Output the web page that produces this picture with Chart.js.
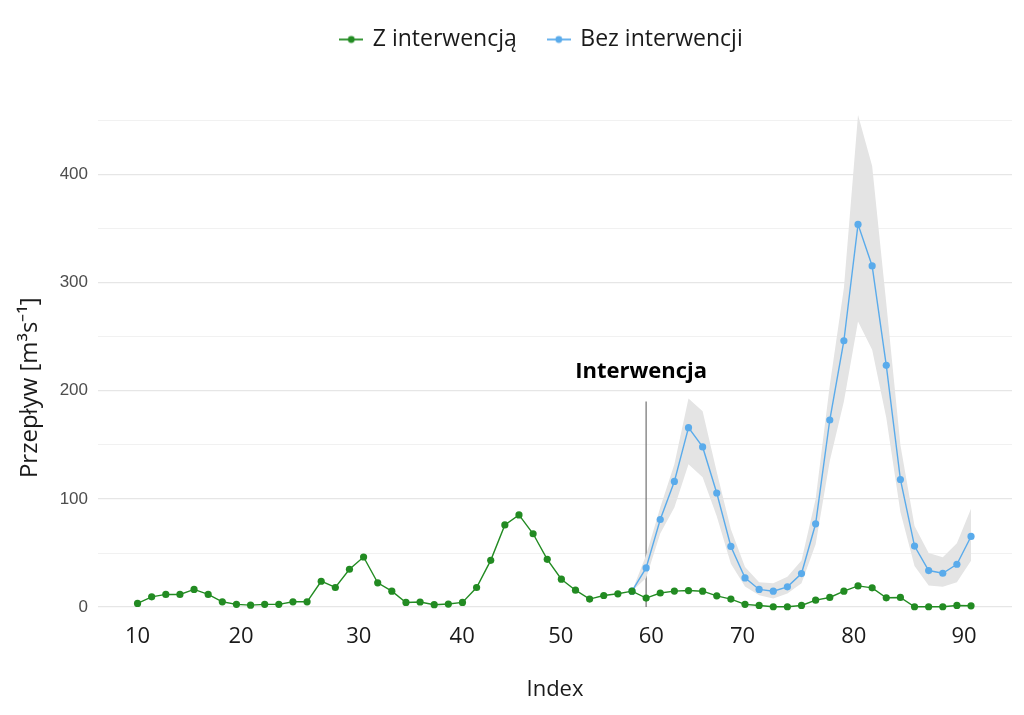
<!DOCTYPE html>
<html>
<head>
  <meta charset="UTF-8">
  <title>Przepływ - interwencja</title>
  <script src="https://cdn.jsdelivr.net/npm/chart.js"></script>
  <style>
    html, body { margin: 0; padding: 0; background: #fff; }
    #wrap { width: 1024px; height: 715px; }
  </style>
</head>
<body>
  <div id="wrap"><canvas id="wykres"></canvas></div>

<script>
  // wartości (kolejne punkty)
  var zInterwencja = [3.4, 9.5, 11.7, 11.7, 16.3, 11.7, 4.9, 2.5, 1.8, 2.5,
    2.5, 4.9, 4.9, 23.9, 18.1, 35, 46.3, 22.4, 14.7, 4.3,
    4.7, 2.2, 2.8, 4.3, 18.1, 43.2, 76, 85.2, 67.8, 44.2,
    25.8, 15.6, 7.4, 10.7, 12.3, 14.7, 8.3, 13, 14.8, 15.3,
    14.7, 10.4, 7.4, 2.5, 1.5, 0.3, 0.3, 1.5, 6.4, 8.9,
    14.7, 19.6, 17.8, 8.6, 8.9, 0.3, 0.3, 0.3, 1.5, 1.2];

  // seria bez interwencji i pasmo niepewności zaczynają się od punktu 35
  var startBez = 35;
  var bezInterwencji = [14.7, 36.2, 81, 116.2, 165.9, 148.1, 105.5, 56.1, 27, 16.3,
    14.7, 18.7, 31, 77, 173, 246.3, 353.9, 315.5, 223.6, 118,
    56.4, 33.8, 31.3, 39.6, 65.3];
  var pasmoDol = [14.7, 27, 68, 92, 132, 120, 84, 40, 19, 11,
    8, 12.6, 22, 58, 135, 190, 264, 238, 175, 88,
    38, 20, 18.7, 23, 43];
  var pasmoGora = [14.7, 48, 92, 132, 193, 181, 125, 72, 37, 23,
    22, 28, 43, 100, 205, 295, 455, 408, 281, 150,
    75, 50, 46, 59, 91];

  var punktInterwencji = 36;
  var wysokoscLinii = 190;
  var etykietaInterwencji = 'Interwencja';
  var tytulY = 'Przepływ [m³s⁻¹]';

  var etykietyX = ['10', '20', '30', '40', '50', '60', '70', '80', '90'];
  var pozycjeX = [0, 7.33, 15.66, 22.98, 29.96, 36.37, 42.82, 50.7, 58.5];
  var wartosciY = [0, 50, 100, 150, 200, 250, 300, 350, 400, 450];

  var zielony = '#228b22';
  var niebieski = '#5aabeb';

  function punkty(wartosci, start) {
    return wartosci.map(function (v, i) { return { x: start + i, y: v }; });
  }

  function znacznik(kolor) {
    var c = document.createElement('canvas');
    c.width = 24; c.height = 10;
    var ctx = c.getContext('2d');
    ctx.strokeStyle = kolor;
    ctx.lineWidth = 1.8;
    ctx.beginPath(); ctx.moveTo(0, 5); ctx.lineTo(24, 5); ctx.stroke();
    ctx.fillStyle = kolor;
    ctx.beginPath(); ctx.arc(12, 5, 3.4, 0, Math.PI * 2); ctx.fill();
    return c;
  }

  var interwencjaPlugin = {
    id: 'interwencja',
    afterLayout: function (chart) {
      // legenda w oryginale jest lekko przesunięta w prawo
      chart.legend.left += 72;
    },
    beforeDatasetsDraw: function (chart) {
      var ctx = chart.ctx;
      var x = chart.scales.x.getPixelForValue(punktInterwencji);
      var y0 = chart.scales.y.getPixelForValue(0);
      var y1 = chart.scales.y.getPixelForValue(wysokoscLinii);
      ctx.save();
      ctx.strokeStyle = '#707070';
      ctx.lineWidth = 1.2;
      ctx.beginPath(); ctx.moveTo(x, y0); ctx.lineTo(x, y1); ctx.stroke();
      ctx.restore();
    },
    afterDatasetsDraw: function (chart) {
      var ctx = chart.ctx;
      var x = chart.scales.x.getPixelForValue(punktInterwencji);
      var y = chart.scales.y.getPixelForValue(wysokoscLinii);
      ctx.save();
      ctx.fillStyle = '#000';
      ctx.font = 'bold 22px "Open Sans"';
      ctx.textAlign = 'center';
      ctx.textBaseline = 'alphabetic';
      ctx.fillText(etykietaInterwencji, x - 5, y - 24);
      ctx.restore();

      // tytuł osi Y, wyśrodkowany na obszarze danych
      var yy = (chart.scales.y.getPixelForValue(0) + chart.scales.y.getPixelForValue(450)) / 2 + 24;
      ctx.save();
      ctx.translate(30, yy);
      ctx.rotate(-Math.PI / 2);
      ctx.fillStyle = '#1a1a1a';
      ctx.font = '24px "Open Sans"';
      ctx.textAlign = 'center';
      ctx.textBaseline = 'middle';
      ctx.fillText(tytulY, 0, 0);
      ctx.restore();
    }
  };

  new Chart(document.getElementById('wykres'), {
    type: 'line',
    data: {
      datasets: [
        {
          label: 'Z interwencją',
          data: punkty(zInterwencja, 0),
          borderColor: zielony,
          backgroundColor: zielony,
          borderWidth: 1.4,
          pointRadius: 3.6,
          pointBorderWidth: 0,
          tension: 0,
          order: 0
        },
        {
          label: 'Bez interwencji',
          data: punkty(bezInterwencji, startBez),
          borderColor: niebieski,
          backgroundColor: niebieski,
          borderWidth: 1.4,
          pointRadius: 3.6,
          pointBorderWidth: 0,
          tension: 0,
          order: 1
        },
        {
          label: 'dol',
          data: punkty(pasmoDol, startBez),
          borderWidth: 0,
          pointRadius: 0,
          fill: false,
          order: 2
        },
        {
          label: 'gora',
          data: punkty(pasmoGora, startBez),
          borderWidth: 0,
          pointRadius: 0,
          backgroundColor: '#e4e4e4',
          fill: '-1',
          order: 2
        }
      ]
    },
    options: {
      responsive: true,
      maintainAspectRatio: false,
      animation: false,
      layout: { padding: { top: -4, right: 12, left: 0, bottom: 0 } },
      plugins: {
        tooltip: { enabled: false },
        legend: {
          position: 'top',
          labels: {
            usePointStyle: true,
            pointStyleWidth: 20,
            padding: 32,
            color: '#1a1a1a',
            font: { family: '"Open Sans"', size: 23 },
            generateLabels: function (chart) {
              return [
                { text: 'Z interwencją', pointStyle: znacznik(zielony), fillStyle: zielony, strokeStyle: zielony, lineWidth: 0, fontColor: '#1a1a1a', datasetIndex: 0 },
                { text: 'Bez interwencji', pointStyle: znacznik(niebieski), fillStyle: niebieski, strokeStyle: niebieski, lineWidth: 0, fontColor: '#1a1a1a', datasetIndex: 1 }
              ];
            }
          }
        }
      },
      scales: {
        x: {
          type: 'linear',
          min: -2.8,
          max: 61.9,
          afterBuildTicks: function (scale) {
            scale.ticks = pozycjeX.map(function (v) { return { value: v }; });
          },
          afterFit: function (scale) { scale.height = 93; },
          ticks: {
            autoSkip: false,
            maxRotation: 0,
            padding: 2,
            color: '#1a1a1a',
            font: { family: '"Open Sans"', size: 22 },
            callback: function (v, i) { return etykietyX[i]; }
          },
          grid: { display: false, drawTicks: false },
          border: { display: false },
          title: {
            display: true,
            text: 'Index',
            color: '#1a1a1a',
            font: { family: '"Open Sans"', size: 22 },
            padding: { top: 4, bottom: 12 }
          }
        },
        y: {
          min: -13.8,
          max: 505,
          afterBuildTicks: function (scale) {
            scale.ticks = wartosciY.map(function (v) { return { value: v }; });
          },
          afterFit: function (scale) { scale.width = 98; },
          ticks: {
            padding: 10,
            color: '#4d4d4d',
            font: { family: '"Liberation Sans"', size: 17 },
            callback: function (v) { return v % 100 === 0 ? String(v) : ''; }
          },
          grid: {
            drawTicks: false,
            color: function (c) { return c.tick && c.tick.value % 100 === 0 ? '#e6e6e6' : '#f1f1f1'; },
            lineWidth: function (c) { return c.tick && c.tick.value % 100 === 0 ? 1.2 : 1; }
          },
          border: { display: false },
          title: { display: false }
        }
      }
    },
    plugins: [interwencjaPlugin]
  });
</script>
</body>
</html>
